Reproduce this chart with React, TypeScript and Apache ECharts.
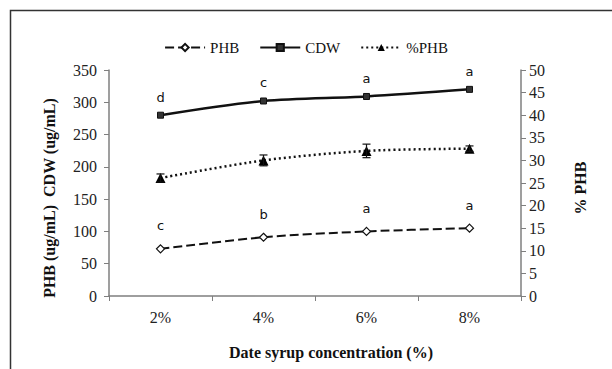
import React, { useEffect, useRef } from "react";
import * as echarts from "echarts";

const categories = ["2%", "4%", "6%", "8%"];
const phb = [73, 91, 100, 105];
const cdw = [280, 302, 309, 320];
const pctPhb = [26.1, 30.0, 32.1, 32.6];
const pctPhbErr = [0.9, 1.2, 1.5, 0.6];
const phbLetters = ["c", "b", "a", "a"];
const cdwLetters = ["d", "c", "a", "a"];
const leftTicks = [0, 350, 50];
const rightTicks = [0, 50, 5];

const serif = "'Liberation Serif', 'Times New Roman', serif";
const sans = "'DejaVu Sans', sans-serif";

export default function App() {
  const ref = useRef<HTMLDivElement>(null);
  useEffect(() => {
    const chart = echarts.init(ref.current!, undefined, { renderer: "svg" });
    const axisGray = "#7f7f7f";
    const nameStyle = { font: "bold 16px " + serif, fill: "#111", textAlign: "center", textVerticalAlign: "middle" };
    chart.setOption({
      animation: false,
      backgroundColor: "#fff",
      graphic: [
        {
          type: "rect",
          shape: { x: 10.5, y: 10.5, width: 700, height: 500 },
          style: { fill: "none", stroke: "#333", lineWidth: 1.5 },
          silent: true,
        },
        {
          type: "text",
          x: 49,
          y: 198,
          rotation: Math.PI / 2,
          style: { text: "PHB (ug/mL)  CDW (ug/mL)", ...nameStyle },
        },
        {
          type: "text",
          x: 580,
          y: 188,
          rotation: Math.PI / 2,
          style: { text: "% PHB", ...nameStyle },
        },
        {
          type: "text",
          x: 331,
          y: 352,
          style: { text: "Date syrup concentration (%)", ...nameStyle },
        },
      ],
      legend: {
        top: 35,
        left: "center",
        itemWidth: 40,
        itemHeight: 9,
        itemGap: 20,
        textStyle: { fontFamily: serif, fontSize: 15, color: "#111" },
        data: ["PHB", "CDW", "%PHB"],
      },
      grid: { left: 109, right: 91, top: 70, bottom: 73 },
      xAxis: {
        type: "category",
        data: categories,
        boundaryGap: true,
        axisLine: { lineStyle: { color: axisGray, width: 1.5 } },
        axisTick: { show: true, length: 5, inside: false, lineStyle: { color: axisGray } },
        axisLabel: { fontFamily: serif, fontSize: 16, color: "#222", margin: 13 },
      },
      yAxis: [
        {
          type: "value",
          min: leftTicks[0],
          max: leftTicks[1],
          interval: leftTicks[2],
          splitLine: { show: false },
          axisLine: { show: true, lineStyle: { color: axisGray, width: 1.5 } },
          axisTick: { show: true, length: 5, lineStyle: { color: axisGray } },
          axisLabel: { fontFamily: serif, fontSize: 16, color: "#222", margin: 12 },
        },
        {
          type: "value",
          position: "right",
          min: rightTicks[0],
          max: rightTicks[1],
          interval: rightTicks[2],
          splitLine: { show: false },
          axisLine: { show: true, lineStyle: { color: axisGray, width: 1.5 } },
          axisTick: { show: true, length: 5, lineStyle: { color: axisGray } },
          axisLabel: { fontFamily: serif, fontSize: 16, color: "#222", margin: 8 },
        },
      ],
      series: [
        {
          name: "PHB",
          type: "line",
          data: phb,
          symbol: "diamond",
          symbolSize: 8,
          itemStyle: { color: "#fff", borderColor: "#111", borderWidth: 1.2 },
          lineStyle: { color: "#111", width: 2, type: [9, 4] },
          smooth: 0.3,
          label: {
            show: true,
            position: "top",
            distance: 12,
            fontFamily: sans,
            fontSize: 13,
            color: "#111",
            formatter: (p: any) => phbLetters[p.dataIndex],
          },
          z: 3,
        },
        {
          name: "CDW",
          type: "line",
          data: cdw,
          symbol: "rect",
          symbolSize: 6,
          itemStyle: { color: "#333", borderColor: "#111", borderWidth: 1 },
          lineStyle: { color: "#111", width: 2.5 },
          smooth: 0.3,
          label: {
            show: true,
            position: "top",
            distance: 8,
            fontFamily: sans,
            fontSize: 13,
            color: "#111",
            formatter: (p: any) => cdwLetters[p.dataIndex],
          },
          z: 3,
        },
        {
          name: "%PHB",
          type: "line",
          yAxisIndex: 1,
          data: pctPhb,
          symbol: "triangle",
          symbolSize: 10,
          itemStyle: { color: "#000" },
          lineStyle: { color: "#111", width: 2.5, type: [2, 3] },
          smooth: 0.3,
          z: 3,
        },
        {
          name: "err",
          type: "custom",
          yAxisIndex: 1,
          data: pctPhb.map((v, i) => [i, v, pctPhbErr[i]]),
          renderItem: (params: any, api: any) => {
            const x = api.value(0);
            const y = api.value(1);
            const e = api.value(2);
            const lo = api.coord([x, y - e]);
            const hi = api.coord([x, y + e]);
            const w = 4;
            const style = { stroke: "#111", lineWidth: 1.2 };
            return {
              type: "group",
              children: [
                { type: "line", shape: { x1: lo[0], y1: lo[1], x2: hi[0], y2: hi[1] }, style },
                { type: "line", shape: { x1: hi[0] - w, y1: hi[1], x2: hi[0] + w, y2: hi[1] }, style },
                { type: "line", shape: { x1: lo[0] - w, y1: lo[1], x2: lo[0] + w, y2: lo[1] }, style },
              ],
            };
          },
          z: 4,
        },
      ],
    });
    return () => chart.dispose();
  }, []);
  return <div ref={ref} style={{ width: 612, height: 369, position: "absolute", left: 0, top: 0 }} />;
}
